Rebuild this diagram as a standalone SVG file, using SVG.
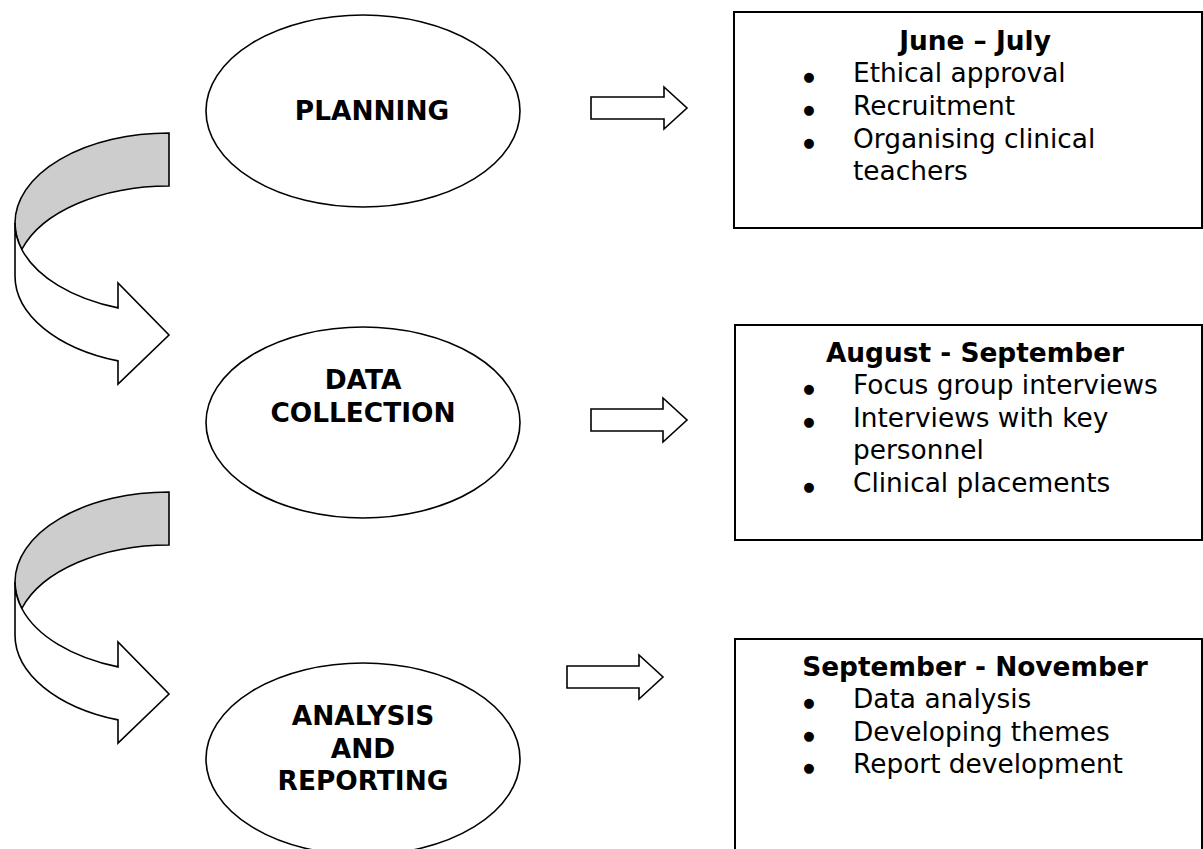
<svg xmlns="http://www.w3.org/2000/svg" width="1203" height="849" viewBox="0 0 1203 849">
<style>
  text { font-family: "DejaVu Sans", Verdana, sans-serif; font-size: 26.4px; fill: #000; }
  .b { font-weight: bold; }
  .c { text-anchor: middle; }
  .bul { font-size: 13px; text-anchor: middle; }
  .ell { fill: #fff; stroke: #000; stroke-width: 1.6; }
  .box { fill: #fff; stroke: #000; stroke-width: 2; }
  .blk { fill: #fff; stroke: #000; stroke-width: 1.6; stroke-linejoin: miter; }
  .back { fill: #cdcdcd; stroke: #000; stroke-width: 1.6; }
  .front { fill: #fff; stroke: #000; stroke-width: 1.6; }
</style>
<defs>
  <g id="curved">
    <path class="back" d="M169,133 A154,90 0 0 0 15,223 A154,90 0 0 0 21.8,249.5 A154,90 0 0 1 169,186 Z"/>
    <path class="front" d="M15,223 L15,276 A154,90 0 0 0 118,360.9 L118,384 L169,335 L118,283 L118,307.9 A154,90 0 0 1 21.8,249.5 A154,90 0 0 1 15,223 Z"/>
  </g>
</defs>
<rect width="1203" height="849" fill="#fff"/>

<g id="connectors">
  <use href="#curved"/>
  <use href="#curved" transform="translate(0,359)"/>
  <path class="blk" d="M591,97 L664,97 L664,87 L687,108 L664,129 L664,119 L591,119 Z"/>
  <path class="blk" d="M591,409 L663,409 L663,398 L687,420 L663,442 L663,431 L591,431 Z"/>
  <path class="blk" d="M567,666 L639,666 L639,655 L663,677 L639,699 L639,688 L567,688 Z"/>
</g>

<g id="planning">
  <ellipse class="ell" cx="363" cy="111" rx="157" ry="96"/>
  <text class="b c" x="372" y="120">PLANNING</text>
</g>
<g id="data-collection">
  <ellipse class="ell" cx="363" cy="422.5" rx="157" ry="95.5"/>
  <text class="b c" x="363" y="389">DATA</text>
  <text class="b c" x="363" y="422">COLLECTION</text>
</g>
<g id="analysis-reporting">
  <ellipse class="ell" cx="363" cy="759" rx="157" ry="96"/>
  <text class="b c" x="363" y="725">ANALYSIS</text>
  <text class="b c" x="363" y="758">AND</text>
  <text class="b c" x="363" y="790">REPORTING</text>
</g>

<g id="box-june-july">
  <rect class="box" x="734" y="12" width="468" height="216"/>
  <text class="b c" x="975" y="50">June – July</text>
  <text class="bul" x="809" y="81">●</text><text x="853" y="82">Ethical approval</text>
  <text class="bul" x="809" y="114">●</text><text x="853" y="115">Recruitment</text>
  <text class="bul" x="809" y="147">●</text><text x="853" y="148">Organising clinical</text>
  <text x="853" y="180">teachers</text>
</g>
<g id="box-aug-sep">
  <rect class="box" x="735" y="325" width="467" height="215"/>
  <text class="b c" x="975" y="362">August - September</text>
  <text class="bul" x="809" y="393">●</text><text x="853" y="394">Focus group interviews</text>
  <text class="bul" x="809" y="426">●</text><text x="853" y="427">Interviews with key</text>
  <text x="853" y="459">personnel</text>
  <text class="bul" x="809" y="491">●</text><text x="853" y="492">Clinical placements</text>
</g>
<g id="box-sep-nov">
  <rect class="box" x="735" y="639" width="467" height="230"/>
  <text class="b c" x="975" y="676">September - November</text>
  <text class="bul" x="809" y="707">●</text><text x="853" y="708">Data analysis</text>
  <text class="bul" x="809" y="740">●</text><text x="853" y="741">Developing themes</text>
  <text class="bul" x="809" y="772">●</text><text x="853" y="773">Report development</text>
</g>
</svg>
